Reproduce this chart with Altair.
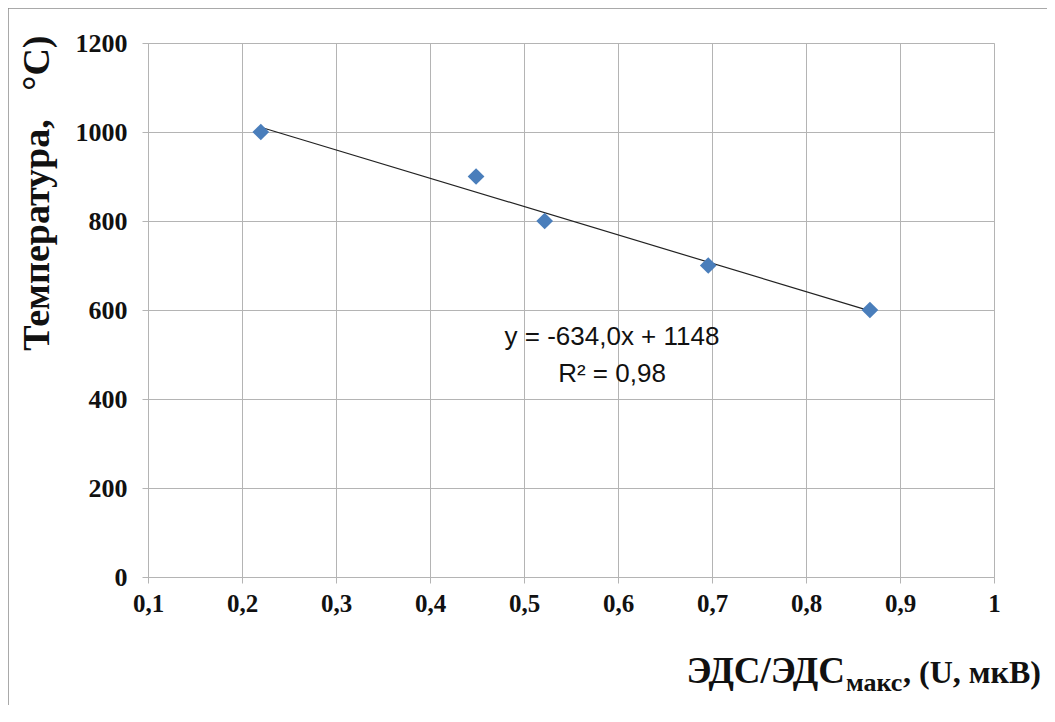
import altair as alt
import pandas as pd

# Data
emf_ratio = [0.220, 0.449, 0.522, 0.696, 0.868]
temperature = [1000, 900, 800, 700, 600]
x_ticks = [0.1, 0.2, 0.3, 0.4, 0.5, 0.6, 0.7, 0.8, 0.9, 1.0]
y_ticks = [0, 200, 400, 600, 800, 1000, 1200]
equation_lines = ["y = -634,0x + 1148", "R² = 0,98"]

df = pd.DataFrame({"x": emf_ratio, "y": temperature})
one = pd.DataFrame({"k": [0]})

W, H = 846, 534
SERIF = "Liberation Serif"
GRID = "#b4b4b4"
NB = "\u00a0"

base = alt.Chart(df)

xenc = alt.X(
    "x:Q",
    scale=alt.Scale(domain=[0.1, 1.0], nice=False, zero=False),
    axis=alt.Axis(
        values=x_ticks,
        title=None,
        labelExpr="replace(format(datum.value, '~g'), '.', ',')",
        labelFont=SERIF, labelFontSize=25, labelFontWeight="bold", labelColor="#111",
        labelPadding=8, tickSize=6, tickColor=GRID, domainColor=GRID,
        gridColor=GRID, grid=True, labelFlush=False,
    ),
)
yenc = alt.Y(
    "y:Q",
    scale=alt.Scale(domain=[0, 1200], nice=False),
    axis=alt.Axis(
        values=y_ticks,
        title="Температура," + NB * 3 + "°C)",
        titleFont=SERIF, titleFontSize=38, titleFontWeight="bold", titleColor="#111",
        titleAngle=-90, titleAnchor="end", titleAlign="right", titleBaseline="middle",
        titleX=-111, titleY=-8,
        labelExpr="format(datum.value, 'd')",
        labelFont=SERIF, labelFontSize=26, labelFontWeight="bold", labelColor="#111",
        labelPadding=15, tickSize=6, tickColor=GRID, domainColor=GRID,
        gridColor=GRID, grid=True,
    ),
)

points = base.mark_point(shape="diamond", filled=True, size=280, color="#4a7ebb", opacity=1).encode(
    x=xenc, y=yenc
)

trend = base.transform_regression("x", "y").mark_line(color="#222", strokeWidth=1.2).encode(
    x="x:Q", y="y:Q"
)

eq1 = alt.Chart(pd.DataFrame({"t": [equation_lines[0]]})).mark_text(
    font="Liberation Sans", fontSize=26, align="center", baseline="alphabetic", color="#111"
).encode(text="t:N", x=alt.value(464), y=alt.value(302))
eq2 = alt.Chart(pd.DataFrame({"t": [equation_lines[1]]})).mark_text(
    font="Liberation Sans", fontSize=26, align="center", baseline="alphabetic", color="#111"
).encode(text="t:N", x=alt.value(464), y=alt.value(339))

xt1 = alt.Chart(pd.DataFrame({"t": ["ЭДС/ЭДС"]})).mark_text(
    font=SERIF, fontSize=37, fontWeight="bold", align="right", baseline="alphabetic", color="#111"
).encode(text="t:N", x=alt.value(697), y=alt.value(640))
xt2 = alt.Chart(pd.DataFrame({"t": ["макс"]})).mark_text(
    font=SERIF, fontSize=26, fontWeight="bold", align="left", baseline="alphabetic", color="#111"
).encode(text="t:N", x=alt.value(698), y=alt.value(648))
xt3 = alt.Chart(pd.DataFrame({"t": [", (U, мкВ)"]})).mark_text(
    font=SERIF, fontSize=32, fontWeight="bold", align="left", baseline="alphabetic", color="#111"
).encode(text="t:N", x=alt.value(755), y=alt.value(640))

border_top = alt.Chart(one).mark_rule(color="#8c8c8c", strokeWidth=1.5, clip=False).encode(
    x=alt.value(-140), x2=alt.value(W + 53), y=alt.value(-35)
)
border_left = alt.Chart(one).mark_rule(color="#8c8c8c", strokeWidth=1.5, clip=False).encode(
    x=alt.value(-140), y=alt.value(-35), y2=alt.value(H + 130)
)

chart = (
    alt.layer(trend, points, eq1, eq2, xt1, xt2, xt3, border_top, border_left)
    .properties(
        width=W, height=H,
        autosize=alt.AutoSizeParams(type="none"),
        padding={"left": 140, "top": 35, "right": 53, "bottom": 128},
    )
    .configure_view(stroke="#c4c4c4", strokeWidth=1.5)
    .configure(background="white")
)

chart.save("out.html", embed_options={"renderer": "svg", "actions": False})
